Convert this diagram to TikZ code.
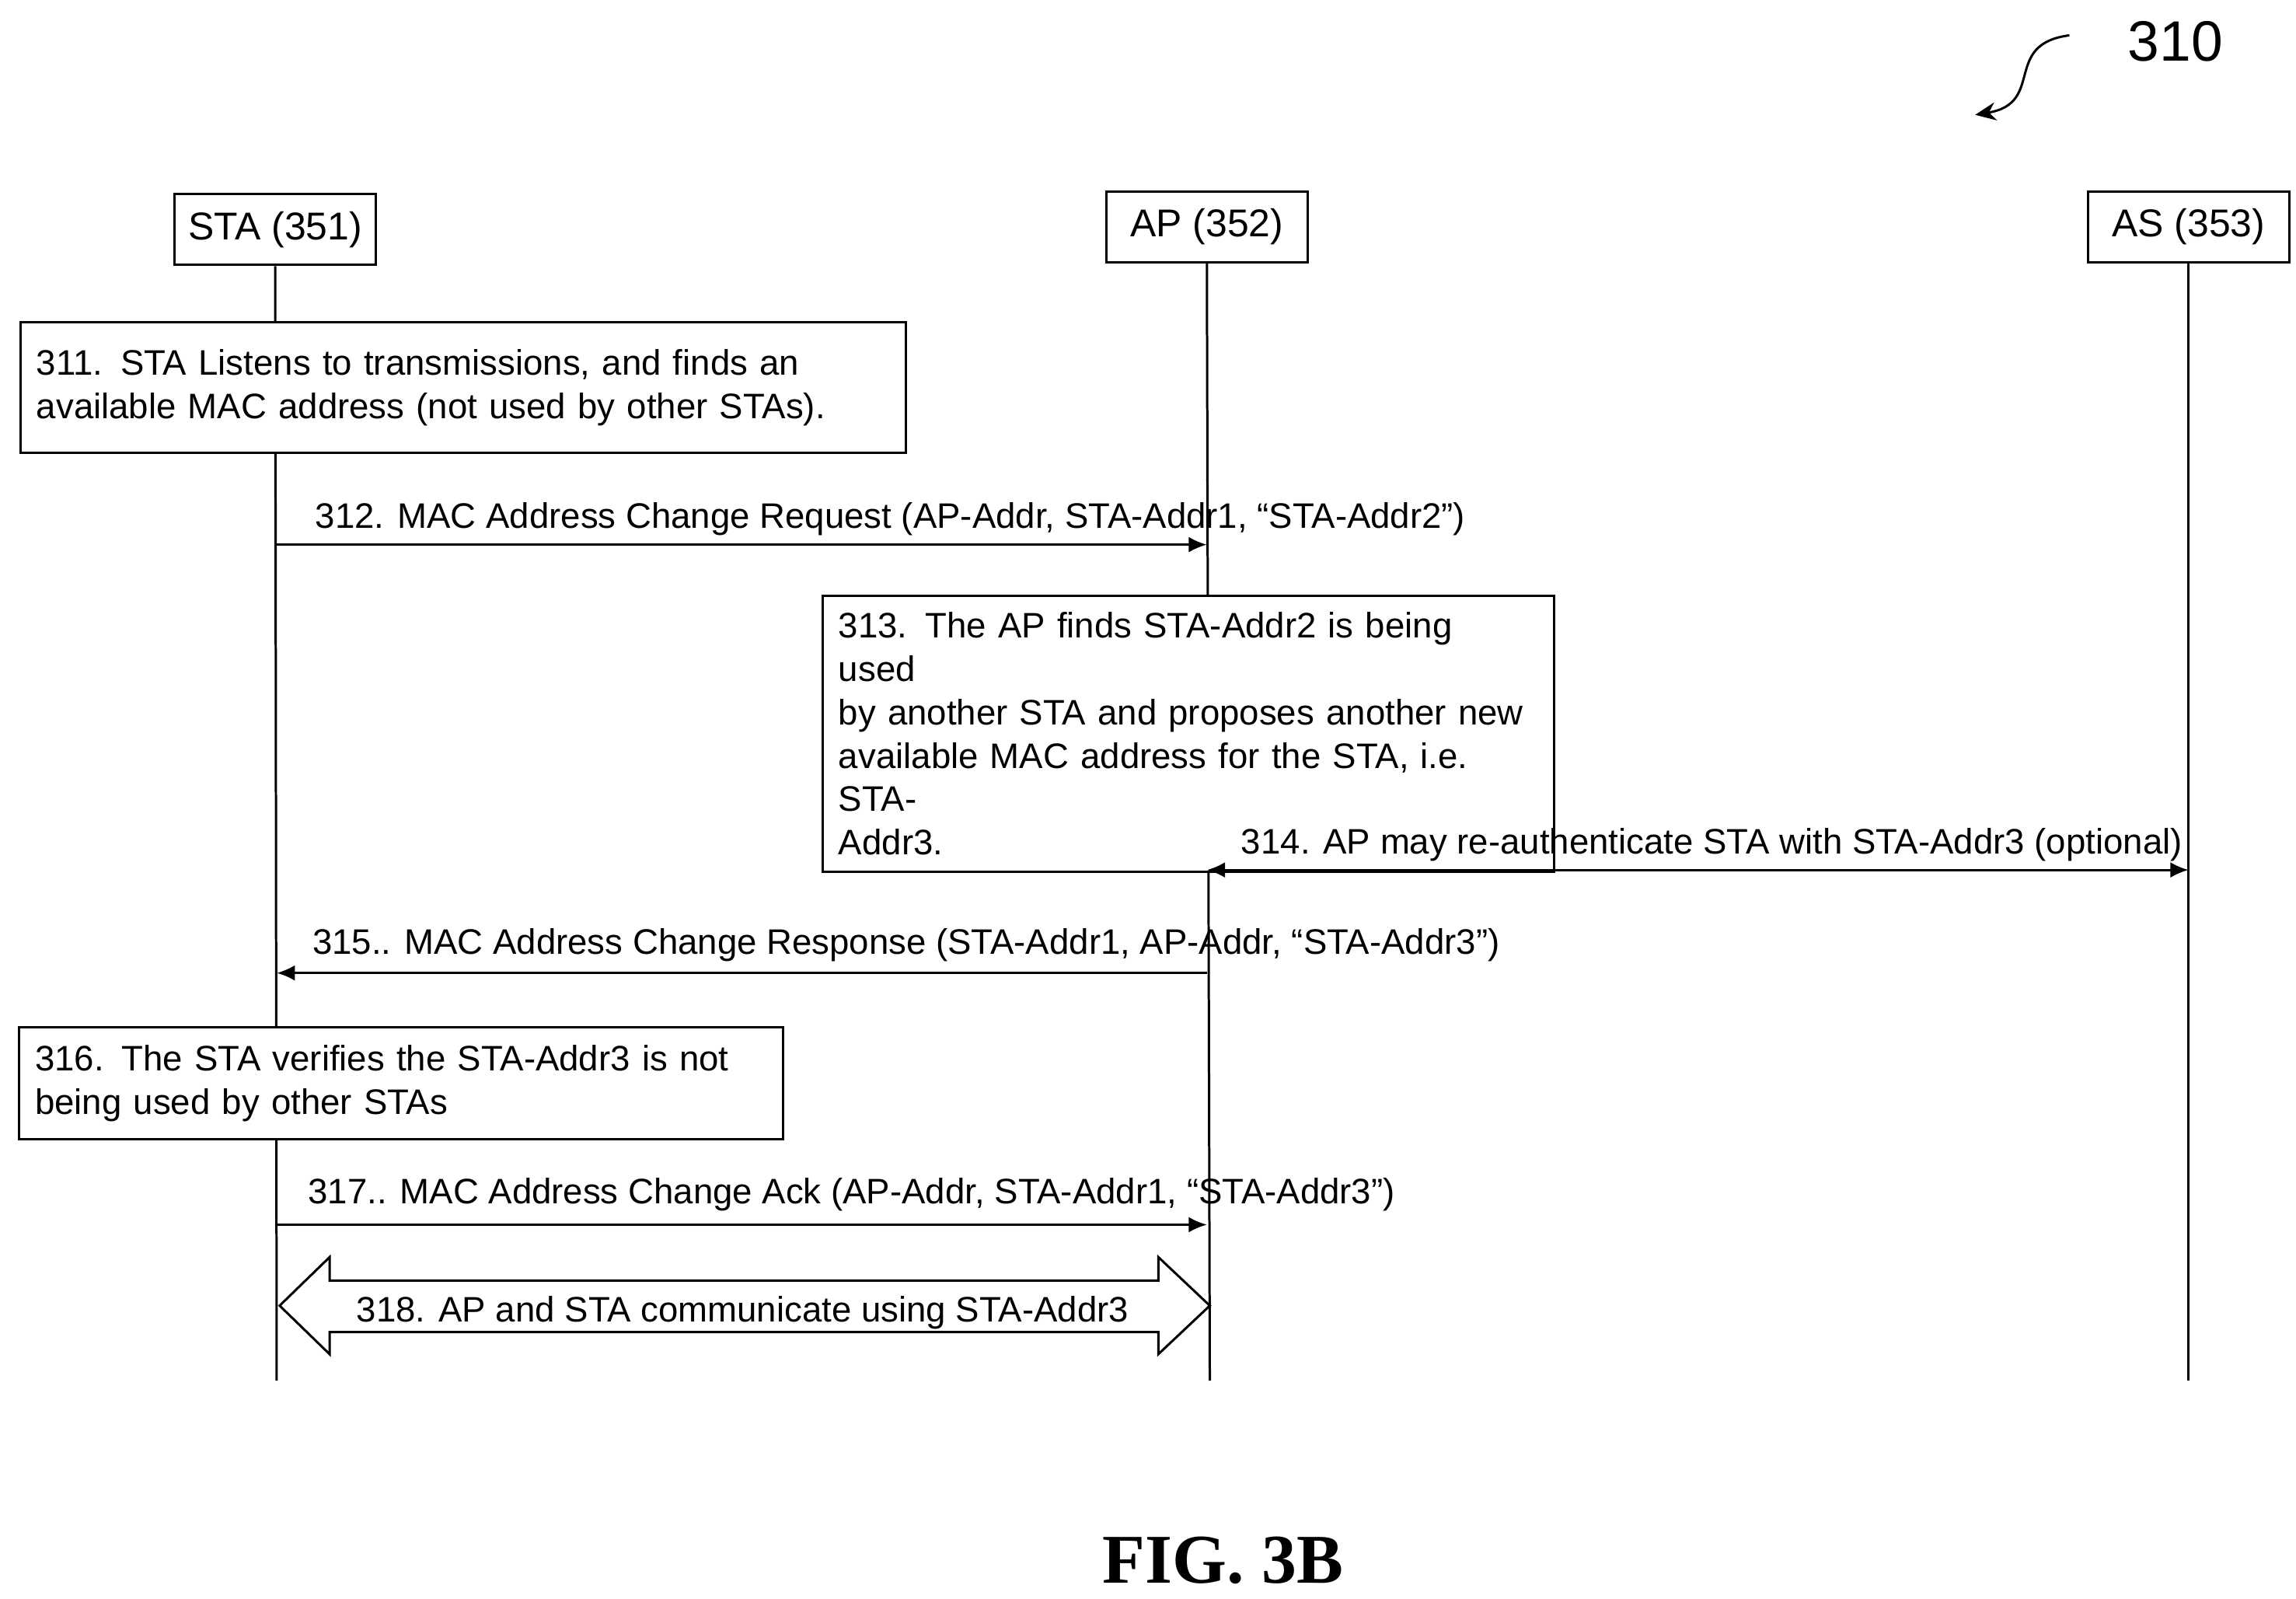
\documentclass[tikz,border=0pt]{standalone}
\usepackage{fontspec}
\setmainfont{Liberation Sans}
\newfontfamily\figfont{Liberation Serif}
\usetikzlibrary{arrows.meta}
\begin{document}
\begin{tikzpicture}[x=0.02cm,y=-0.02cm,
 ent/.style={draw,line width=0.9pt,minimum width=2.74cm,minimum height=0.96cm,inner sep=0pt,font=\fontsize{15}{18}\selectfont},
 note/.style={draw,line width=0.9pt,anchor=north west,align=left,text width=#1,inner sep=0.22cm,font=\fontsize{13.7}{16.8}\selectfont},
 life/.style={line width=0.9pt},
 msg/.style={line width=0.9pt,-{Latex[length=7pt,width=6pt]}},
 lbl/.style={anchor=base west,inner sep=0pt,font=\fontsize{13.7}{16}\selectfont}]
\useasboundingbox (0,0) rectangle (1560,1086);
\node[ent] (sta) at (187,156) {STA (351)};
\node[ent] (ap) at (820,154) {AP (352)};
\node[ent] (as) at (1487,154) {AS (353)};
\coordinate (staE) at (188,938);
\coordinate (apE) at (822,938);
\coordinate (asE) at (1487,938);
\draw[life] (sta.south) -- (staE);
\draw[life] (ap.south) -- (apE);
\draw[life] (as.south) -- (asE);
\node[note=11.6cm,fill=white,minimum height=1.78cm] (n311) at (13,218) {311. STA Listens to transmissions, and finds an\\available MAC address (not used by other STAs).};
\coordinate (a1) at (188,370); \coordinate (b1) at (820,370);
\draw[msg] (a1) -- (b1);
\node[lbl] (l312) at (214,359) {312. MAC Address Change Request (AP-Addr, STA-Addr1, “STA-Addr2”)};
\node[note=9.5cm,fill=white,minimum height=2.74cm] (n313) at (558,404) {313. The AP finds STA-Addr2 is being used\\by another STA and proposes another new\\available MAC address for the STA, i.e. STA-\\Addr3.};
\coordinate (a4) at (820,591); \coordinate (b4) at (1487,591);
\draw[msg,{Latex[length=7pt,width=6pt]}-{Latex[length=7pt,width=6pt]}] (a4) -- (b4);
\node[lbl] (l314) at (843,580) {314. AP may re-authenticate STA with STA-Addr3 (optional)};
\coordinate (a5) at (820,661); \coordinate (b5) at (188,661);
\draw[msg] (a5) -- (b5);
\node[lbl] (l315) at (212,648) {315.. MAC Address Change Response (STA-Addr1, AP-Addr, “STA-Addr3”)};
\node[note=9.95cm,fill=white,minimum height=1.52cm] (n316) at (12,697) {316. The STA verifies the STA-Addr3 is not\\being used by other STAs};
\coordinate (a7) at (188,832); \coordinate (b7) at (820,832);
\draw[msg] (a7) -- (b7);
\node[lbl] (l317) at (209,818) {317.. MAC Address Change Ack (AP-Addr, STA-Addr1, “STA-Addr3”)};
\draw[line width=0.9pt,fill=white] (190,887) -- (224,854) -- (224,870) -- (787,870) -- (787,854) -- (822,887) -- (787,920) -- (787,905) -- (224,905) -- (224,920) -- cycle;
\node[lbl] (l318) at (242,898) {318. AP and STA communicate using STA-Addr3};
\node[font=\fontsize{22}{26}\selectfont] (n310) at (1478,28) {310};
\coordinate (c310) at (1406,24);
\draw[line width=0.9pt,-{Stealth[length=8pt,width=7pt]}] (c310) .. controls (1360,30) and (1390,70) .. (1342,78);
\node[font=\figfont\bfseries\fontsize{27}{30}\selectfont] (fig) at (831,1060) {FIG. 3B};
\end{tikzpicture}
\end{document}
